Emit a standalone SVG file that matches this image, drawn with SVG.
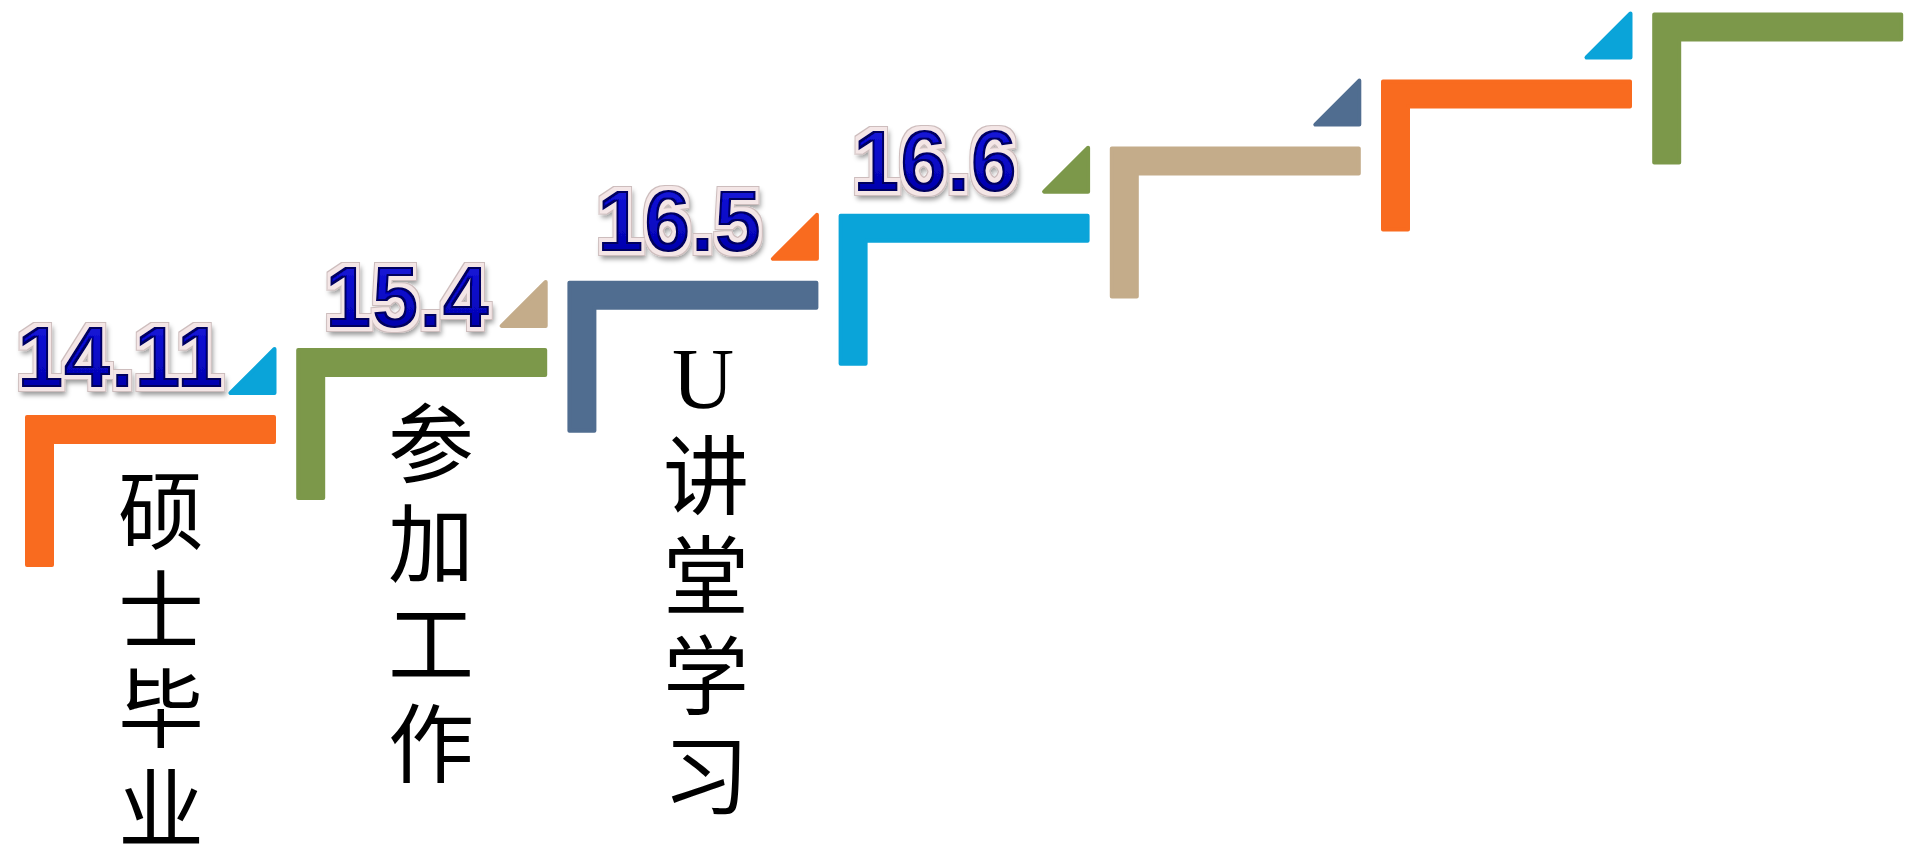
<svg xmlns="http://www.w3.org/2000/svg" width="1905" height="848" viewBox="0 0 1905 848">
<defs>
<linearGradient id="blueFill" x1="0" y1="0" x2="0" y2="1">
<stop offset="0" stop-color="#1C1CE0"/>
<stop offset="0.55" stop-color="#0808C4"/>
<stop offset="1" stop-color="#00009A"/>
</linearGradient>
<filter id="numfx" x="-10%" y="-25%" width="125%" height="160%">
<feMorphology in="SourceAlpha" operator="dilate" radius="4.5" result="dil2"/>
<feMorphology in="SourceAlpha" operator="dilate" radius="3.5" result="dil"/>
<feGaussianBlur in="dil" stdDeviation="2.5" result="blur"/>
<feOffset in="blur" dx="2" dy="4" result="off"/>
<feFlood flood-color="#000" flood-opacity="0.4"/>
<feComposite in2="off" operator="in" result="shadow"/>
<feFlood flood-color="#CDBDBD"/>
<feComposite in2="dil2" operator="in" result="rim"/>
<feFlood flood-color="#F4E6E6"/>
<feComposite in2="dil" operator="in" result="halo"/>
<feMorphology in="SourceAlpha" operator="erode" radius="1.6" result="ero"/>
<feComposite in="SourceAlpha" in2="ero" operator="out" result="ring"/>
<feFlood flood-color="#00005E"/>
<feComposite in2="ring" operator="in" result="edge"/>
<feMerge>
<feMergeNode in="shadow"/>
<feMergeNode in="rim"/>
<feMergeNode in="halo"/>
<feMergeNode in="SourceGraphic"/>
<feMergeNode in="edge"/>
</feMerge>
</filter>
<path id="stepL" d="M2,2 H249 V27 H27 V150 H2 Z"/>
<path id="tri" d="M205.5,-22 H249.5 V-66 Z"/>
</defs>
<style>
.orange{fill:#F96B1F;stroke:#F96B1F}
.green{fill:#7C984A;stroke:#7C984A}
.slate{fill:#506D90;stroke:#506D90}
.cyan{fill:#0AA4D9;stroke:#0AA4D9}
.tan{fill:#C4AC8A;stroke:#C4AC8A}
use{stroke-width:4;stroke-linejoin:round}
.num{font-family:"Liberation Sans",Arial,sans-serif;font-weight:bold;font-size:88px;fill:url(#blueFill);filter:url(#numfx);text-anchor:middle}
.cn{font-family:"Liberation Serif","Noto Sans CJK SC",serif;font-size:86px;fill:#000;text-anchor:middle}
</style>
<g id="step1" transform="translate(25,415)">
<use href="#stepL" class="orange"/>
<use href="#tri" class="cyan"/>
</g>
<g id="step2" transform="translate(296.2,347.9)">
<use href="#stepL" class="green"/>
<use href="#tri" class="tan"/>
</g>
<g id="step3" transform="translate(567.4,280.8)">
<use href="#stepL" class="slate"/>
<use href="#tri" class="orange"/>
</g>
<g id="step4" transform="translate(838.6,213.7)">
<use href="#stepL" class="cyan"/>
<use href="#tri" class="green"/>
</g>
<g id="step5" transform="translate(1109.8,146.6)">
<use href="#stepL" class="tan"/>
<use href="#tri" class="slate"/>
</g>
<g id="step6" transform="translate(1381,79.5)">
<use href="#stepL" class="orange"/>
<use href="#tri" class="cyan"/>
</g>
<g id="step7" transform="translate(1652.2,12.4)">
<use href="#stepL" class="green"/>
</g>
<g id="labels">
<text class="num" transform="translate(120,387) scale(0.96,1)">14.11</text>
<text class="num" transform="translate(407,327) scale(0.96,1)">15.4</text>
<text class="num" transform="translate(679,251) scale(0.96,1)">16.5</text>
<text class="num" transform="translate(935,191) scale(0.96,1)">16.6</text>
</g>
<g id="text1">
<text class="cn" x="161" y="543">硕</text>
<text class="cn" x="161" y="643">士</text>
<text class="cn" x="161" y="741">毕</text>
<text class="cn" x="161" y="841">业</text>
</g>
<g id="text2">
<text class="cn" x="431" y="476">参</text>
<text class="cn" x="431" y="576">加</text>
<text class="cn" x="431" y="676">工</text>
<text class="cn" x="431" y="776">作</text>
</g>
<g id="text3">
<text class="cn" x="703" y="408">U</text>
<text class="cn" x="706" y="508">讲</text>
<text class="cn" x="706" y="608">堂</text>
<text class="cn" x="706" y="708">学</text>
<text class="cn" x="706" y="808">习</text>
</g>
</svg>
